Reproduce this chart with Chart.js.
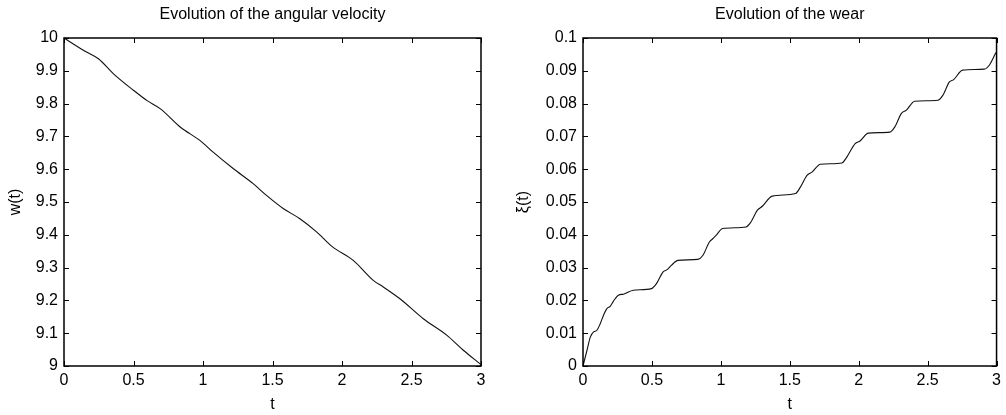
<!DOCTYPE html>
<html>
<head>
<meta charset="utf-8">
<script src="https://cdn.jsdelivr.net/npm/chart.js@4"></script>
<style>
  body { margin: 0; background: #fff; }
  #left { position: absolute; left: 0; top: 0; }
  #right { position: absolute; left: 500px; top: 0; }
</style>
</head>
<body>
<canvas id="left" width="500" height="415"></canvas>
<canvas id="right" width="506" height="415"></canvas>
<script>
// angular velocity w(t)
let omegaT = [0, 0.142, 0.25, 0.358, 0.502, 0.598, 0.694, 0.838, 0.98, 1.073, 1.217, 1.361, 1.457, 1.577, 1.697, 1.817,
  1.93, 2.081, 2.225, 2.297, 2.417, 2.585, 2.753, 2.873, 3];
let omegaVal = [10, 9.962, 9.936, 9.89, 9.84, 9.809, 9.784, 9.728, 9.687, 9.652, 9.602, 9.556, 9.52, 9.48, 9.449, 9.409,
  9.364, 9.322, 9.261, 9.241, 9.205, 9.144, 9.094, 9.048, 9.004];

// wear xi(t)
let wearT = [0, 0.029, 0.053, 0.077, 0.101, 0.125, 0.149, 0.173, 0.197, 0.221, 0.257, 0.293, 0.365, 0.497,
  0.533, 0.581, 0.61, 0.641, 0.689, 0.833, 0.869, 0.917, 0.941, 0.965, 1.013, 1.182, 1.218, 1.265, 1.301, 1.373,
  1.542, 1.578, 1.625, 1.661, 1.722, 1.878, 1.914, 1.974, 2.01, 2.07, 2.226, 2.262, 2.31, 2.346, 2.406,
  2.574, 2.61, 2.658, 2.689, 2.754, 2.911, 2.947, 2.994, 3];
let wearVal = [0, 0.0048, 0.0088, 0.0104, 0.0109, 0.0129, 0.0155, 0.0175, 0.0182, 0.0198, 0.0216, 0.0219, 0.0231, 0.0236,
  0.0251, 0.0287, 0.0294, 0.0307, 0.0322, 0.0325, 0.0337, 0.0378, 0.0388, 0.0398, 0.0419, 0.0424, 0.0439, 0.0475, 0.0487, 0.0518,
  0.0526, 0.0546, 0.0581, 0.0591, 0.0615, 0.0619, 0.0637, 0.0678, 0.0686, 0.071, 0.0713, 0.0729, 0.077, 0.078, 0.0807,
  0.081, 0.0825, 0.0866, 0.0873, 0.0902, 0.0905, 0.0917, 0.0954, 0.0958];

let xTickLabels = ['0', '0.5', '1', '1.5', '2', '2.5', '3'];
let omegaTickLabels = ['9', '9.1', '9.2', '9.3', '9.4', '9.5', '9.6', '9.7', '9.8', '9.9', '10'];
let wearTickLabels = ['0', '0.01', '0.02', '0.03', '0.04', '0.05', '0.06', '0.07', '0.08', '0.09', '0.1'];

let fontFamily = '"Liberation Sans", Arial, Helvetica, sans-serif';
let fontSize = 16;

// box round the plot with small ticks pointing inwards, matlab style
let frameTicks = {
  id: 'frameTicks',
  afterDraw(chart) {
    let ctx = chart.ctx;
    let a = chart.chartArea;
    let x = chart.scales.x;
    let y = chart.scales.y;
    ctx.save();
    ctx.strokeStyle = '#000';
    ctx.lineWidth = 1;
    ctx.beginPath();
    x.ticks.forEach(function (t) {
      let px = Math.round(x.getPixelForValue(t.value)) + 0.5;
      ctx.moveTo(px, a.bottom); ctx.lineTo(px, a.bottom - 5);
      ctx.moveTo(px, a.top); ctx.lineTo(px, a.top + 5);
    });
    y.ticks.forEach(function (t) {
      let py = Math.round(y.getPixelForValue(t.value)) + 0.5;
      ctx.moveTo(a.left, py); ctx.lineTo(a.left + 5, py);
      ctx.moveTo(a.right, py); ctx.lineTo(a.right - 5, py);
    });
    ctx.stroke();
    ctx.lineWidth = 1.5;
    ctx.strokeRect(a.left, a.top, a.right - a.left, a.bottom - a.top);
    ctx.restore();
  }
};

function makeChart(id, title, ts, vals, ymin, ymax, ystep, ylabels, ytitle, yWidth, yTitlePad, padRight) {
  let pts = [];
  for (let i = 0; i < ts.length; i++) {
    pts.push({ x: ts[i], y: vals[i] });
  }
  return new Chart(document.getElementById(id), {
    type: 'line',
    data: {
      datasets: [{
        data: pts,
        borderColor: '#111',
        borderWidth: 1.1,
        pointRadius: 0,
        cubicInterpolationMode: 'monotone',
        clip: 3
      }]
    },
    options: {
      responsive: false,
      animation: false,
      layout: { padding: { left: 0, right: padRight, top: 0, bottom: 0 } },
      plugins: {
        legend: { display: false },
        tooltip: { enabled: false },
        title: {
          display: true,
          text: title,
          fullSize: false,
          color: '#000',
          font: { family: fontFamily, size: fontSize, weight: 'normal', lineHeight: 1.2 },
          padding: { top: 5, bottom: 13.8 }
        }
      },
      scales: {
        x: {
          type: 'linear',
          min: 0,
          max: 3,
          grid: { display: false, drawTicks: false },
          border: { display: false },
          ticks: {
            stepSize: 0.5,
            padding: 5,
            color: '#000',
            maxRotation: 0,
            font: { family: fontFamily, size: fontSize },
            callback: function (v, i) { return xTickLabels[i]; }
          },
          title: {
            display: true,
            text: 't',
            color: '#000',
            font: { family: fontFamily, size: fontSize },
            padding: { top: 0, bottom: 1 }
          },
          afterFit: function (s) { s.height = 49; }
        },
        y: {
          min: ymin,
          max: ymax,
          grid: { display: false, drawTicks: false },
          border: { display: false },
          ticks: {
            stepSize: ystep,
            padding: 6,
            color: '#000',
            font: { family: fontFamily, size: fontSize },
            callback: function (v, i) { return ylabels[i]; }
          },
          title: {
            display: true,
            text: ytitle,
            color: '#000',
            font: { family: fontFamily, size: fontSize },
            padding: { top: yTitlePad, bottom: 0 }
          },
          afterFit: function (s) { s.width = yWidth; }
        }
      }
    },
    plugins: [frameTicks]
  });
}

let leftChart = makeChart('left', 'Evolution of the angular velocity', omegaT, omegaVal,
  9, 10, 0.1, omegaTickLabels, 'w(t)', 64, 5.5, 19);
let rightChart = makeChart('right', 'Evolution of the wear', wearT, wearVal,
  0, 0.1, 0.01, wearTickLabels, 'ξ(t)', 83, 13.5, 7);
</script>
</body>
</html>
